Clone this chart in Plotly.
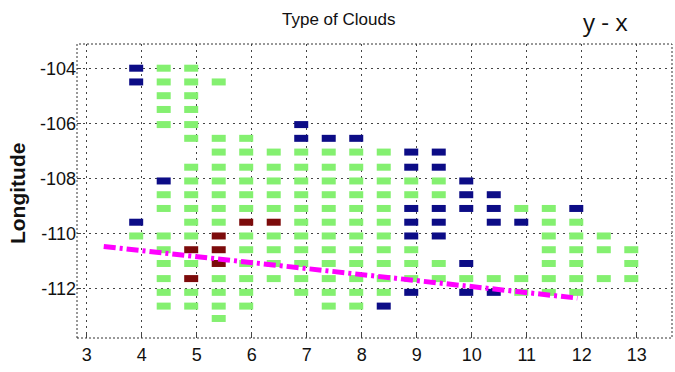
import plotly.graph_objects as go

# ---- data ----
X_TICKS = [3, 4, 5, 6, 7, 8, 9, 10, 11, 12, 13]
Y_TICKS = [-104, -106, -108, -110, -112]

GREEN = {
    3.9: [-110.1],
    4.4: [-104.0, -104.5, -105.0, -105.5, -106.05, -108.6, -109.1, -110.1, -110.6, -111.1, -111.65, -112.15, -112.65],
    4.9: [-104.0, -104.5, -105.0, -105.5, -106.05, -106.55, -107.6, -108.1, -108.6, -109.1, -109.6, -110.1, -111.1, -112.15, -112.65],
    5.4: [-104.5, -106.55, -107.05, -107.6, -108.1, -108.6, -109.1, -109.6, -111.65, -112.15, -112.65, -113.1],
    5.9: [-106.55, -107.05, -107.6, -108.1, -108.6, -109.1, -110.1, -110.6, -111.1, -111.65, -112.15, -112.65],
    6.4: [-107.05, -107.6, -108.1, -108.6, -109.1, -110.1, -110.6, -111.1, -111.65],
    6.9: [-107.05, -107.6, -108.1, -108.6, -109.1, -109.6, -110.1, -110.6, -111.1, -111.65, -112.15],
    7.4: [-107.05, -107.6, -108.1, -108.6, -109.1, -109.6, -110.1, -110.6, -111.1, -111.65, -112.15, -112.65],
    7.9: [-107.05, -107.6, -108.1, -108.6, -109.1, -109.6, -110.1, -110.6, -111.1, -111.65, -112.15, -112.65],
    8.4: [-107.05, -107.6, -108.1, -108.6, -109.1, -109.6, -110.1, -110.6, -111.1, -111.65, -112.15],
    8.9: [-108.1, -108.6, -110.6, -111.1, -111.65],
    9.4: [-108.1, -108.6, -111.1, -111.65],
    9.9: [-111.65],
    10.4: [-111.65],
    10.9: [-109.1, -111.65, -112.15],
    11.4: [-109.1, -109.6, -110.1, -110.6, -111.1, -111.65, -112.15],
    11.9: [-109.6, -110.1, -110.6, -111.1, -111.65, -112.15],
    12.4: [-110.1, -110.6, -111.65],
    12.9: [-110.6, -111.1, -111.65],
}

BLUE = {
    3.9: [-104.0, -104.5, -109.6],
    4.4: [-108.1],
    6.9: [-106.05, -106.55],
    7.4: [-106.55],
    7.9: [-106.55],
    8.4: [-112.65],
    8.9: [-107.05, -107.6, -109.1, -109.6, -110.1, -112.15],
    9.4: [-107.05, -107.6, -109.1, -109.6, -110.1],
    9.9: [-108.1, -108.6, -109.1, -111.1, -112.15],
    10.4: [-108.6, -109.1, -109.6, -112.15],
    10.9: [-109.6],
    11.9: [-109.1],
}

RED = {
    4.9: [-110.6, -111.65],
    5.4: [-110.1, -110.6, -111.1],
    5.9: [-109.6],
    6.4: [-109.6],
}

FIT_X = [3.31, 11.92]
FIT_Y = [-110.48, -112.36]


def flatten(d):
    xs, ys = [], []
    for x, yl in d.items():
        for y in yl:
            xs.append(x)
            ys.append(y)
    return xs, ys


fig = go.Figure()
for data, col in [(GREEN, "#84f070"), (BLUE, "#0c0c86"), (RED, "#7c0b0b")]:
    xs, ys = flatten(data)
    fig.add_trace(go.Scatter(
        x=xs, y=ys, mode="markers",
        marker=dict(symbol="line-ew", size=10, color=col,
                    line=dict(color=col, width=7)),
        hoverinfo="skip", showlegend=False))

fig.add_trace(go.Scatter(
    x=FIT_X, y=FIT_Y, mode="lines",
    line=dict(color="#ff00ff", width=5, dash="12px,4px,3px,4px"),
    hoverinfo="skip", showlegend=False))

FONT = "Liberation Sans, Arial, sans-serif"

axis_common = dict(
    showgrid=True, gridcolor="#444444", gridwidth=1, griddash="2px,4px",
    zeroline=False, showline=False, ticks="inside", ticklen=4,
    tickcolor="#444444", tickfont=dict(family=FONT, size=18, color="#111111"),
)

fig.update_xaxes(range=[2.824, 13.64], tickmode="array", tickvals=X_TICKS,
                 ticktext=[str(v) for v in X_TICKS], ticklabelstandoff=4,
                 **axis_common)
fig.update_yaxes(range=[-113.81, -103.12], tickmode="array", tickvals=Y_TICKS,
                 ticktext=[str(v) for v in Y_TICKS], **axis_common)

fig.add_shape(type="rect", xref="paper", yref="paper", x0=0, y0=0, x1=1, y1=1,
              line=dict(color="#333333", width=1, dash="2px,2px"))

fig.add_annotation(text="Type of Clouds", xref="paper", yref="paper",
                   x=0.44, y=1.082, xanchor="center", yanchor="middle",
                   showarrow=False,
                   font=dict(family=FONT, size=17, color="#111111"))
fig.add_annotation(text="y - x", xref="paper", yref="paper",
                   x=0.888, y=1.075, xanchor="center", yanchor="middle",
                   showarrow=False,
                   font=dict(family="Open Sans, sans-serif", size=24, color="#111111"))
fig.add_annotation(text="<b>Longitude</b>", xref="paper", yref="paper",
                   x=-0.099, y=0.49, xanchor="center", yanchor="middle",
                   showarrow=False, textangle=-90,
                   font=dict(family=FONT, size=21, color="#111111"))

fig.update_layout(
    width=675, height=372,
    margin=dict(l=77, r=3, t=44, b=34),
    paper_bgcolor="white", plot_bgcolor="white",
)

fig.write_html("out.html")
